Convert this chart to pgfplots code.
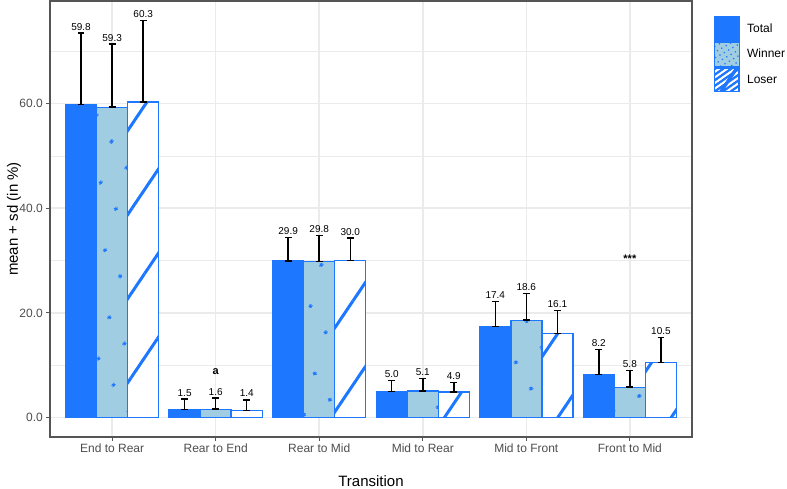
\documentclass[border=0pt]{standalone}
\usepackage{pgfplots}
\pgfplotsset{compat=1.18}
\usepackage{pgfplotstable}
\usetikzlibrary{patterns.meta}
\usepackage{fontspec}
\setmainfont{Liberation Sans}
\definecolor{tblue}{RGB}{30,120,255}
\definecolor{wfill}{RGB}{160,205,225}
\definecolor{gridc}{RGB}{235,235,235}
\definecolor{bord}{RGB}{85,85,85}
\definecolor{tickc}{RGB}{77,77,77}
\makeatletter
\newcommand\nopostactions{\let\tikz@postactions\pgfutil@empty}
\makeatother

\pgfplotstableread{
x y err lab
0 59.8 13.7 59.8
1 1.5 2.07 1.5
2 29.9 4.5 29.9
3 5.0 2.13 5.0
4 17.4 4.8 17.4
5 8.2 4.8 8.2
}\total
\pgfplotstableread{
x y err lab
0 59.3 12.1 59.3
1 1.6 2.1 1.6
2 29.8 5.0 29.8
3 5.1 2.4 5.1
4 18.6 5.1 18.6
5 5.8 3.2 5.8
}\winner
\pgfplotstableread{
x y err lab
0 60.3 15.6 60.3
1 1.4 2.0 1.4
2 30.0 4.3 30.0
3 4.9 1.85 4.9
4 16.1 4.4 16.1
5 10.5 4.8 10.5
}\loser

\begin{document}
\begin{tikzpicture}[x=1pt,y=1pt]
\useasboundingbox (0,0) rectangle (787,488);
\begin{axis}[
 at={(50pt,51pt)}, anchor=south west,
 width=642pt, height=436pt, scale only axis,
 xmin=-0.6, xmax=5.6, ymin=-3.71, ymax=79.6,
 xtick={0,1,2,3,4,5},
 xticklabels={End to Rear, Rear to End, Rear to Mid, Mid to Rear, Mid to Front, Front to Mid},
 ytick={0,20,40,60}, minor ytick={10,30,50,70},
 yticklabel={\pgfmathprintnumber[fixed,fixed zerofill,precision=1]{\tick}},
 /pgf/number format/assume math mode=true,
 tick label style={font=\fontsize{12pt}{14pt}\selectfont, text=tickc},
 grid=both,
 major grid style={gridc, line width=1.5pt},
 minor grid style={gridc, line width=0.8pt},
 axis line style={bord, line width=1.1pt},
 tick style={bord, line width=1.1pt},
 tick align=outside, major tick length=3.7pt, minor tick length=0pt,
 xtick pos=left, ytick pos=left,
 xlabel={Transition}, ylabel={mean + sd (in \%)},
 label style={font=\fontsize{15pt}{18pt}\selectfont},
 xlabel style={at={(axis description cs:0.5,-0.101)}, anchor=center},
 ylabel style={at={(axis description cs:-0.056,0.5)}, anchor=center, rotate=0},
 legend style={at={(axis description cs:1.0335,0.9656)}, anchor=north west, draw=none, fill=none,
   inner sep=0pt, row sep=0pt, column sep=7pt,
   nodes={inner sep=0pt, font=\fontsize{12pt}{14pt}\selectfont}},
 legend cell align=left,
]
% Total
\addplot[ybar, bar width=31pt, bar shift=0pt, fill=tblue, draw=tblue, line width=1.4pt,
  error bars/.cd, y dir=both, y explicit,
  error bar style={black, line width=1.5pt},
  error mark options={black, rotate=90, mark size=3.4pt, line width=1.5pt},
  /pgfplots/legend image code/.code={\fill[tblue] (0pt,-12pt) rectangle (25pt,12pt);}]
  table[x expr=\thisrow{x}-0.3, y=y, y error plus=err, y error minus expr=0] {\total};
\addlegendentry{Total}
% Winner
\addplot[ybar, bar width=31pt, bar shift=0pt, fill=wfill, draw=tblue, line width=1.4pt,
  postaction={pattern={Dots[distance=30pt, radius=2pt, angle=30]}, pattern color=tblue},
  error bars/.cd, y dir=both, y explicit,
  error bar style={black, line width=1.5pt},
  error mark options={black, rotate=90, mark size=3.4pt, line width=1.5pt},
  /pgfplots/legend image code/.code={\nopostactions
    \path[fill=wfill, draw=none] (0pt,-12pt) rectangle (25pt,12pt);
    \path[draw=none, pattern={Dots[distance=5pt, radius=0.9pt, angle=30]}, pattern color=tblue] (0pt,-12pt) rectangle (25pt,12pt);}]
  table[x expr=\thisrow{x}, y=y, y error plus=err, y error minus expr=0] {\winner};
\addlegendentry{Winner}
% Loser
\addplot[ybar, bar width=31pt, bar shift=0pt, fill=white, draw=tblue, line width=1.4pt,
  postaction={pattern={Lines[angle=56, distance=47pt, line width=3pt]}, pattern color=tblue},
  error bars/.cd, y dir=both, y explicit,
  error bar style={black, line width=1.5pt},
  error mark options={black, rotate=90, mark size=3.4pt, line width=1.5pt},
  /pgfplots/legend image code/.code={\nopostactions
    \path[fill=white, draw=none] (0pt,-12pt) rectangle (25pt,12pt);
    \begin{scope}
    \clip (0pt,-12pt) rectangle (25pt,12pt);
    \foreach \i in {-40,-32,...,24} {\draw[tblue, line width=2pt, fill=none] (\i pt,-12pt) -- ++(40pt,28pt);}
    \end{scope}
    \draw[tblue, line width=1pt, fill=none] (0.5pt,-11.5pt) rectangle (24.5pt,11.5pt);}]
  table[x expr=\thisrow{x}+0.3, y=y, y error plus=err, y error minus expr=0] {\loser};
\addlegendentry{Loser}
% value labels
\addplot[draw=none, forget plot, nodes near coords, point meta=explicit symbolic,
  nodes near coords style={anchor=south, inner sep=0pt, yshift=2.6pt, font=\fontsize{10pt}{12pt}\selectfont, text=black}]
  table[x expr=\thisrow{x}-0.3, y expr=\thisrow{y}+\thisrow{err}, meta=lab] {\total};
\addplot[draw=none, forget plot, nodes near coords, point meta=explicit symbolic,
  nodes near coords style={anchor=south, inner sep=0pt, yshift=2.6pt, font=\fontsize{10pt}{12pt}\selectfont, text=black}]
  table[x expr=\thisrow{x}, y expr=\thisrow{y}+\thisrow{err}, meta=lab] {\winner};
\addplot[draw=none, forget plot, nodes near coords, point meta=explicit symbolic,
  nodes near coords style={anchor=south, inner sep=0pt, yshift=2.6pt, font=\fontsize{10pt}{12pt}\selectfont, text=black}]
  table[x expr=\thisrow{x}+0.3, y expr=\thisrow{y}+\thisrow{err}, meta=lab] {\loser};
% significance marks
\addplot[draw=none, forget plot, nodes near coords, point meta=explicit symbolic,
  nodes near coords style={anchor=center, inner sep=0pt, font=\bfseries\fontsize{11pt}{13pt}\selectfont, text=black}]
  coordinates {(1,8.75) [a] (5,30.3) [***]};
\end{axis}
\end{tikzpicture}
\end{document}
